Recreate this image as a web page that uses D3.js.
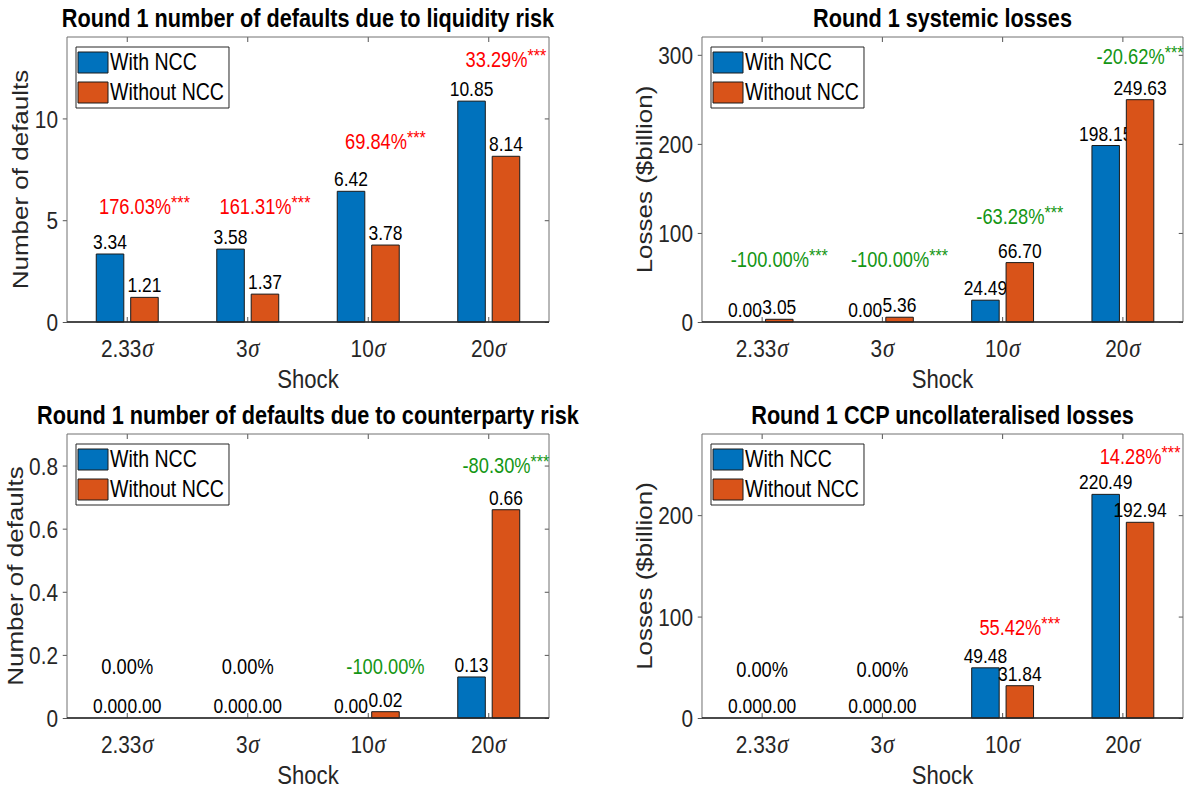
<!DOCTYPE html>
<html lang="en">
  <head>
    <meta charset="UTF-8" />
    <title>Round 1 defaults and losses, with and without NCC</title>
    <style>
      body { margin: 0; background: #fff; }
      svg text { font-family: "Liberation Sans", Arial, Helvetica, sans-serif; }
      .sigma { font-family: "Liberation Serif", "Times New Roman", serif; font-style: italic; }
    </style>
  </head>
  <body>
    <svg id="svg" width="1185" height="793"></svg>
    <script src="https://cdn.jsdelivr.net/npm/d3@7"></script>
    <script>
      // shock sizes (multiples of sigma) and the two series
      const categories = ["2.33", "3", "10", "20"];
      const seriesNames = ["With NCC", "Without NCC"];
      const seriesColors = ["#0072BD", "#D95319"];

      // Round 1 defaults due to liquidity risk
      const liqWith = [3.34, 3.58, 6.42, 10.85];
      const liqWithout = [1.21, 1.37, 3.78, 8.14];
      const liqChange = ["176.03%***", "161.31%***", "69.84%***", "33.29%***"];
      const liqChangeY = [5.67, 5.67, 8.87, 12.9];
      const liqTicks = [0, 5, 10];

      // Round 1 systemic losses
      const sysWith = [0.0, 0.0, 24.49, 198.15];
      const sysWithout = [3.05, 5.36, 66.7, 249.63];
      const sysChange = ["-100.00%***", "-100.00%***", "-63.28%***", "-20.62%***"];
      const sysChangeY = [69.7, 69.7, 118, 298];
      const sysTicks = [0, 100, 200, 300];

      // Round 1 defaults due to counterparty risk
      const cptyWith = [0.0, 0.0, 0.0, 0.13];
      const cptyWithout = [0.0, 0.0, 0.02, 0.66];
      const cptyChange = ["0.00%", "0.00%", "-100.00%", "-80.30%***"];
      const cptyChangeY = [0.162, 0.162, 0.162, 0.8];
      const cptyTicks = [0, 0.2, 0.4, 0.6, 0.8];

      // Round 1 CCP uncollateralised losses
      const ccpWith = [0.0, 0.0, 49.48, 220.49];
      const ccpWithout = [0.0, 0.0, 31.84, 192.94];
      const ccpChange = ["0.00%", "0.00%", "55.42%***", "14.28%***"];
      const ccpChangeY = [47.5, 47.5, 89, 258];
      const ccpTicks = [0, 100, 200];

      const charts = [
        { title: "Round 1 number of defaults due to liquidity risk", ylabel: "Number of defaults",
          values: [liqWith, liqWithout], change: liqChange, changeY: liqChangeY, ticks: liqTicks, ymax: 14 },
        { title: "Round 1 systemic losses", ylabel: "Losses ($billion)",
          values: [sysWith, sysWithout], change: sysChange, changeY: sysChangeY, ticks: sysTicks, ymax: 320 },
        { title: "Round 1 number of defaults due to counterparty risk", ylabel: "Number of defaults",
          values: [cptyWith, cptyWithout], change: cptyChange, changeY: cptyChangeY, ticks: cptyTicks, ymax: 0.9 },
        { title: "Round 1 CCP uncollateralised losses", ylabel: "Losses ($billion)",
          values: [ccpWith, ccpWithout], change: ccpChange, changeY: ccpChangeY, ticks: ccpTicks, ymax: 280 },
      ];

      // the source figure was squeezed horizontally, so draw everything
      // in a wider space and scale x back down
      const SX = 0.85;
      const X = (v) => v / SX;

      const boxes = [
        { left: 67, right: 549, top: 37, bottom: 322, ylab: 47 },
        { left: 702, right: 1183, top: 37, bottom: 322, ylab: 58 },
        { left: 67, right: 549, top: 434, bottom: 718, ylab: 52 },
        { left: 702, right: 1183, top: 434, bottom: 718, ylab: 58 },
      ];

      const root = d3.select("#svg").append("g").attr("transform", `scale(${SX},1)`);

      charts.forEach((p, k) => drawPanel(p, boxes[k]));

      function drawPanel(p, box) {
        const g = root.append("g");

        const x = d3.scaleBand().domain(categories).range([X(box.left), X(box.right)]);
        const y = d3.scaleLinear().domain([0, p.ymax]).range([box.bottom, box.top]);
        const step = x.bandwidth();
        const barW = step * 0.2286;
        const off = step * 0.1429;
        const cx = (c) => x(c) + step / 2;

        // ticks on all four sides
        const tickColor = "#555";
        const bottom = g.append("g")
          .attr("transform", `translate(0,${box.bottom})`)
          .call(d3.axisBottom(x).tickSize(-5).tickSizeOuter(0));
        bottom.selectAll("text")
          .attr("y", 35).attr("dy", null)
          .attr("font-size", 24.5).attr("fill", "#262626")
          .append("tspan").attr("class", "sigma").attr("font-size", 27).attr("dx", 1).text("σ");

        g.append("g")
          .attr("transform", `translate(0,${box.top})`)
          .call(d3.axisTop(x).tickSize(-5).tickSizeOuter(0).tickFormat(""));

        const left = g.append("g")
          .attr("transform", `translate(${X(box.left)},0)`)
          .call(d3.axisLeft(y).tickValues(p.ticks).tickSize(5).tickSizeOuter(0).tickFormat(d3.format("~g")));
        left.selectAll("text")
          .attr("x", -X(9)).attr("dy", "0.35em")
          .attr("font-size", 24.5).attr("fill", "#262626");

        g.append("g")
          .attr("transform", `translate(${X(box.right)},0)`)
          .call(d3.axisRight(y).tickValues(p.ticks).tickSize(-5).tickSizeOuter(0).tickFormat(""));

        g.selectAll(".domain").remove();
        g.selectAll(".tick line")
          .attr("stroke", tickColor)
          .attr("vector-effect", "non-scaling-stroke");
        g.selectAll(".tick text").attr("font-family", null);

        // axes box
        g.append("rect")
          .attr("x", X(box.left)).attr("y", box.top)
          .attr("width", X(box.right) - X(box.left)).attr("height", box.bottom - box.top)
          .attr("fill", "none").attr("stroke", "#707070").attr("stroke-width", 1)
          .attr("vector-effect", "non-scaling-stroke");

        // bars
        p.values.forEach((vals, s) => {
          const rows = categories.map((c, i) => ({ c, v: vals[i] }));
          const dx = s === 0 ? -off : off;

          g.selectAll(".bar-s" + s)
            .data(rows)
            .enter()
            .append("rect")
            .attr("class", "bar-s" + s)
            .attr("x", (d) => cx(d.c) + dx - barW / 2)
            .attr("y", (d) => y(d.v))
            .attr("width", barW)
            .attr("height", (d) => y(0) - y(d.v))
            .attr("fill", seriesColors[s])
            .attr("stroke", "#1a1a1a")
            .attr("stroke-width", 1)
            .attr("vector-effect", "non-scaling-stroke");

          g.selectAll(".val-s" + s)
            .data(rows)
            .enter()
            .append("text")
            .attr("class", "val-s" + s)
            .attr("x", (d) => cx(d.c) + dx)
            .attr("y", (d) => y(d.v) - 5)
            .attr("text-anchor", "middle")
            .attr("font-size", 20.5)
            .attr("fill", "#000")
            .text((d) => d.v.toFixed(2));
        });

        // bar baseline
        g.append("line")
          .attr("x1", X(box.left)).attr("x2", X(box.right))
          .attr("y1", y(0)).attr("y2", y(0))
          .attr("stroke", "#262626").attr("stroke-width", 1.5);

        // percentage change labels
        categories.forEach((c, i) => {
          const label = p.change[i];
          const main = label.replace("***", "");
          const stars = label.includes("***");
          const num = parseFloat(main);
          const color = num === 0 ? "#000" : num < 0 ? "#149614" : "#ff0000";
          const t = g.append("text")
            .attr("x", num === 0 ? cx(c) : cx(c) + off)
            .attr("y", y(p.changeY[i]) + 7.5)
            .attr("text-anchor", "middle")
            .attr("font-size", 21.5)
            .attr("fill", color);
          t.append("tspan").text(main);
          if (stars) t.append("tspan").attr("font-size", 19).attr("dy", -5).text("***");
        });

        // legend
        const lg = g.append("g").attr("transform", `translate(${X(box.left + 9)},${box.top + 10})`);
        lg.append("rect")
          .attr("width", X(153)).attr("height", 61)
          .attr("fill", "#fff").attr("stroke", "#262626").attr("stroke-width", 1)
          .attr("vector-effect", "non-scaling-stroke");
        seriesNames.forEach((name, s) => {
          lg.append("rect")
            .attr("x", X(2)).attr("y", 5 + s * 30)
            .attr("width", X(30)).attr("height", 21)
            .attr("fill", seriesColors[s]).attr("stroke", "#1a1a1a").attr("stroke-width", 1)
            .attr("vector-effect", "non-scaling-stroke");
          lg.append("text")
            .attr("x", X(34)).attr("y", 23.5 + s * 30)
            .attr("font-size", 23).attr("fill", "#000")
            .text(name);
        });

        const midX = (X(box.left) + X(box.right)) / 2;
        const midY = (box.top + box.bottom) / 2;

        // title
        g.append("text")
          .attr("x", midX).attr("y", box.top - 10)
          .attr("text-anchor", "middle")
          .attr("font-size", 25.5).attr("font-weight", "bold").attr("fill", "#000")
          .text(p.title);

        // axis labels
        g.append("text")
          .attr("x", midX).attr("y", box.bottom + 66.5)
          .attr("text-anchor", "middle")
          .attr("font-size", 26).attr("fill", "#262626")
          .text("Shock");

        g.append("text")
          .attr("transform", `translate(${X(box.left - box.ylab)},${midY}) rotate(-90)`)
          .attr("dy", "0.35em")
          .attr("text-anchor", "middle")
          .attr("font-size", 26).attr("fill", "#262626")
          .text(p.ylabel);
      }
    </script>
  </body>
</html>
